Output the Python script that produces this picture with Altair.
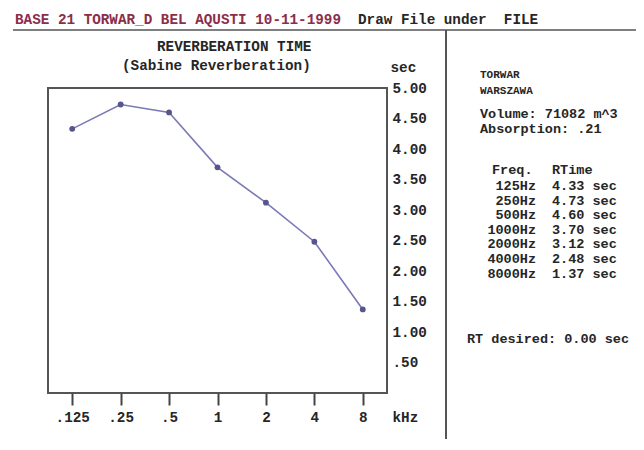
import altair as alt
import pandas as pd

# ---- data ----
freq_labels = [".125", ".25", ".5", "1", "2", "4", "8"]
freq_hz = ["125Hz", "250Hz", "500Hz", "1000Hz", "2000Hz", "4000Hz", "8000Hz"]
rt_values = [4.33, 4.73, 4.60, 3.70, 3.12, 2.48, 1.37]
y_ticks = [0.5, 1.0, 1.5, 2.0, 2.5, 3.0, 3.5, 4.0, 4.5, 5.0]

header_red = "BASE 21 TORWAR_D BEL AQUSTI 10-11-1999"
header_black = "Draw File under\u00a0 FILE"
title_text = "REVERBERATION TIME"
subtitle_text = "(Sabine Reverberation)"
place_lines = ["TORWAR", "WARSZAWA"]
volume_text = "Volume: 71082 m^3"
absorption_text = "Absorption: .21"
rt_desired_text = "RT desired: 0.00 sec"

df = pd.DataFrame({"freq": freq_labels, "rt": rt_values})

FONT = "Liberation Mono"
FS = 14.3
FS2 = 13.5
INK = "#262626"
W, H = 339, 305

base = alt.Chart(df)

x_enc = alt.X(
    "freq:O",
    sort=freq_labels,
    scale=alt.Scale(type="point", padding=0.5),
    axis=alt.Axis(
        title="kHz", titleX=344, titleY=24, titleAlign="left", titleBaseline="middle",
        titleAngle=0, titleFont=FONT, titleFontSize=FS, titleFontWeight="bold", titleColor=INK,
        labelAngle=0, labelFont=FONT, labelFontSize=FS, labelFontWeight="bold", labelColor=INK,
        labelBaseline="middle", labelPadding=12,
        domain=False, ticks=True, tickSize=12, tickWidth=2, tickColor="#444444", grid=False,
    ),
)
y_enc = alt.Y(
    "rt:Q",
    scale=alt.Scale(domain=[0, 5], nice=False, zero=True),
    axis=alt.Axis(
        orient="right", values=y_ticks,
        labelExpr="datum.value < 1 ? substring(format(datum.value, '.2f'), 1) : format(datum.value, '.2f')",
        labelAlign="left", labelBaseline="middle", labelPadding=5,
        labelFont=FONT, labelFontSize=FS, labelFontWeight="bold", labelColor=INK,
        ticks=False, domain=False, grid=False,
        title="sec", titleAngle=0, titleX=3, titleY=-21, titleAlign="left", titleBaseline="middle",
        titleFont=FONT, titleFontSize=FS, titleFontWeight="bold", titleColor=INK,
    ),
)

line = base.mark_line(color="#7a7ab4", strokeWidth=1.6).encode(x=x_enc, y=y_enc)
pts = base.mark_point(filled=True, shape="circle", size=34, color="#56568c", opacity=1).encode(x=x_enc, y=y_enc)


def txt(text, x, y, align="left", color=INK, size=FS, baseline="middle", **kw):
    return alt.Chart(pd.DataFrame({"t": [0]})).mark_text(
        text=text, align=align, baseline=baseline, font=FONT, fontSize=size,
        fontWeight="bold", color=color, **kw
    ).encode(x=alt.value(x), y=alt.value(y))


def rule(x, y, x2, y2, color="#555555", width=2):
    return alt.Chart(pd.DataFrame({"t": [0]})).mark_rule(color=color, strokeWidth=width).encode(
        x=alt.value(x), y=alt.value(y), x2=alt.value(x2), y2=alt.value(y2)
    )


ROW_H = 14.6
layers = [
    line, pts,
    txt(header_red, -33, -68, color="#8a2e4a"),
    txt(header_black, 310, -68),
    rule(-35, -58, 600, -58, width=1.5),
    rule(398, -58, 398, 370),
    txt(title_text, 109, -41),
    txt(subtitle_text, 74, -22),
    txt(place_lines[0], 432, -13, size=11),
    txt(place_lines[1], 432, 3, size=11),
    txt(volume_text, 432, 26, size=FS2),
    txt(absorption_text, 432, 41, size=FS2),
    txt("Freq.", 444, 82, size=FS2),
    txt("RTime", 504, 82, size=FS2),
    txt("\n".join(freq_hz), 488, 91, align="right", baseline="top", size=FS2,
        lineBreak="\n", lineHeight=ROW_H),
    txt("\n".join(f"{v:.2f} sec" for v in rt_values), 504, 91, baseline="top", size=FS2,
        lineBreak="\n", lineHeight=ROW_H),
    txt(rt_desired_text, 419, 251, size=FS2),
]

chart = alt.layer(*layers).properties(
    width=W, height=H,
    autosize=alt.AutoSizeParams(type="none"),
    padding={"left": 40, "top": 80, "right": 249, "bottom": 46},
    background="white",
).configure_view(stroke="#555555", strokeWidth=2)

chart.save("out.html", embed_options={"renderer": "svg", "actions": False})
